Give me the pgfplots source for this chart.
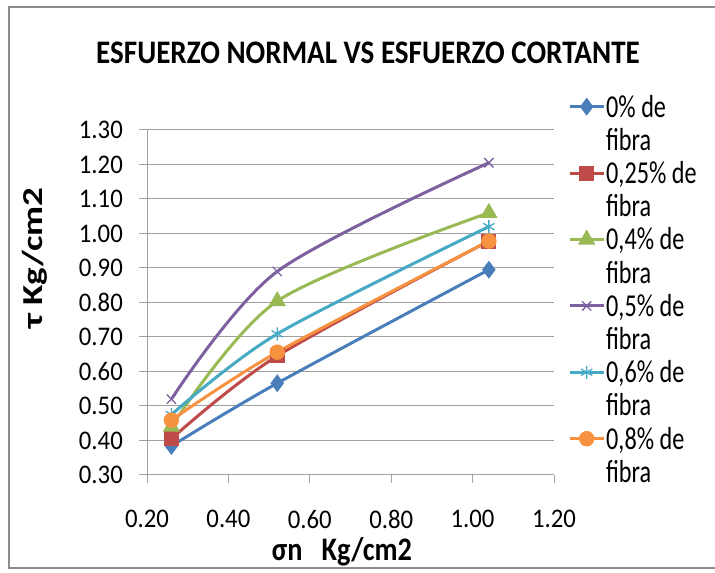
\documentclass[border=0pt]{standalone}
\usepackage{fontspec}
\setmainfont{Carlito}
\newfontfamily\tfont[FakeStretch=0.885]{Carlito}
\newfontfamily\xlfont[FakeStretch=0.86]{Carlito}
\newfontfamily\ylfont[FakeStretch=1.28]{Carlito}
\newfontfamily\tkfont[FakeStretch=0.92]{Carlito}
\newfontfamily\lgfont[FakeStretch=0.76]{Carlito}
\usepackage{pgfplots}
\pgfplotsset{compat=1.18}
\definecolor{c1}{HTML}{4A7EBB}
\definecolor{c2}{HTML}{BE4B48}
\definecolor{c3}{HTML}{98B954}
\definecolor{c4}{HTML}{7D60A0}
\definecolor{c5}{HTML}{46AAC5}
\definecolor{c6}{HTML}{F69240}
\definecolor{gridc}{HTML}{A0A0A0}
\definecolor{borderc}{HTML}{8C8C8C}
\begin{document}
\begin{tikzpicture}
\useasboundingbox (0,0) rectangle (715bp,573bp);
\draw[borderc, line width=1.2bp] (716bp,566bp) -- (9bp,566bp) -- (9bp,5bp) -- (716bp,5bp);
\node[font=\tfont\bfseries\fontsize{33}{38}\selectfont] at (368bp,520bp) {ESFUERZO NORMAL VS ESFUERZO CORTANTE};
\node[font=\xlfont\bfseries\fontsize{33}{38}\selectfont] at (342bp,21bp) {σn\ \ \ Kg/cm2};
\node[font=\ylfont\bfseries\fontsize{29}{34}\selectfont, rotate=90] at (35bp,315bp) {τ Kg/cm2};
\begin{axis}[
  at={(147bp,98bp)}, anchor=south west,
  scale only axis, width=407bp, height=345bp,
  xmin=0.2, xmax=1.2, ymin=0.3, ymax=1.3,
  xtick={0.2,0.4,0.6,0.8,1.0,1.2},
  ytick={0.3,0.4,0.5,0.6,0.7,0.8,0.9,1.0,1.1,1.2,1.3},
  /pgf/number format/assume math mode=true,
  /pgf/number format/.cd, fixed, fixed zerofill, precision=2, /pgfplots/.cd,
  ticklabel style={font=\tkfont\fontsize{27}{32}\selectfont, text=black},
  xticklabel style={yshift=-24bp},
  yticklabel style={xshift=-13bp},
  axis x line*=bottom, axis y line*=left,
  axis line style={gridc, line width=1bp, -},
  ymajorgrids, grid style={gridc, line width=1bp},
  tick align=outside, major tick length=8bp,
  tick style={gridc, line width=1bp},
  every tick label/.append style={inner sep=3bp},
  legend style={at={(1.027,1.122)}, anchor=north west, draw=none, fill=none,
    font=\lgfont\fontsize{32}{36}\selectfont,
    nodes={inner sep=1bp, minimum height=33.2bp}, row sep=0bp},
  legend cell align=left,
  legend image code/.code={\draw[mark repeat=2,mark phase=2] plot coordinates {(0bp,0bp) (17bp,0bp) (34bp,0bp)};},
  every axis plot/.append style={line width=3bp, smooth},
  clip=false,
]
\addplot[c1, mark=diamond*, mark size=6.5bp, mark options={solid, fill=c1}] coordinates {(0.26,0.384) (0.52,0.566) (1.04,0.895)};
\addlegendentry{0\% de}
\addlegendimage{empty legend}\addlegendentry{fibra}
\addplot[c2, mark=square*, mark size=6bp, mark options={solid, fill=c2}] coordinates {(0.26,0.405) (0.52,0.645) (1.04,0.978)};
\addlegendentry{0,25\% de}
\addlegendimage{empty legend}\addlegendentry{fibra}
\addplot[c3, mark=triangle*, mark size=7bp, mark options={solid, fill=c3}] coordinates {(0.26,0.44) (0.52,0.804) (1.04,1.06)};
\addlegendentry{0,4\% de}
\addlegendimage{empty legend}\addlegendentry{fibra}
\addplot[c4, mark=x, mark size=6.5bp, mark options={solid, line width=1.3bp}] coordinates {(0.26,0.52) (0.52,0.89) (1.04,1.205)};
\addlegendentry{0,5\% de}
\addlegendimage{empty legend}\addlegendentry{fibra}
\addplot[c5, mark=asterisk, mark size=6.5bp, mark options={solid, line width=1.3bp}] coordinates {(0.26,0.475) (0.52,0.709) (1.04,1.02)};
\addlegendentry{0,6\% de}
\addlegendimage{empty legend}\addlegendentry{fibra}
\addplot[c6, mark=*, mark size=6.2bp, mark options={solid, fill=c6}] coordinates {(0.26,0.459) (0.52,0.656) (1.04,0.978)};
\addlegendentry{0,8\% de}
\addlegendimage{empty legend}\addlegendentry{fibra}
\end{axis}
\end{tikzpicture}
\end{document}
